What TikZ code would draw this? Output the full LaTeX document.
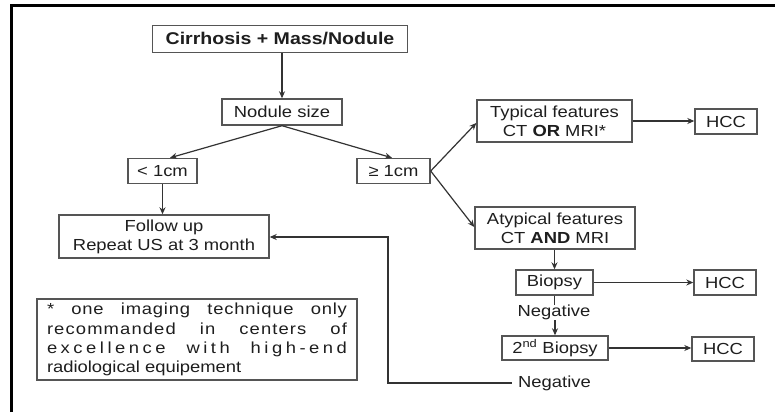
\documentclass[tikz,border=0pt]{standalone}
\usepackage{fontspec}
\setmainfont{Liberation Sans}[FakeStretch=1.15]
\usetikzlibrary{arrows.meta}
\definecolor{ln}{HTML}{333333}
\definecolor{bx}{HTML}{555555}
\definecolor{tx}{HTML}{1E1E1E}
\tikzset{
  box/.style={draw=bx, line width=1.4pt, fill=white, inner sep=0pt, align=center, text=tx,
    font=\fontsize{16}{19}\selectfont},
  conn/.style={draw=ln, line width=1.2pt, -{Stealth[length=7pt,width=6pt]}},
  plain/.style={draw=ln, line width=1.2pt},
  lbl/.style={inner sep=0pt, text=tx, font=\fontsize{16}{19}\selectfont},
  frame/.style={draw=black, line width=3pt}
}
\begin{document}
\begin{tikzpicture}[x=1pt,y=-1pt]
\useasboundingbox (0,0) rectangle (775,412);
\fill[white] (0,0) rectangle (775,412);
\draw[frame] (11,412) -- (11,6) -- (775,6);

\node[box, minimum width=255pt, minimum height=27pt, font=\fontsize{17}{19}\bfseries] (top) at (280,39) {Cirrhosis + Mass/Nodule};
\node[box, minimum width=120pt, minimum height=26pt] (size) at (282,112) {Nodule size};
\node[box, minimum width=69pt, minimum height=25pt] (small) at (162.5,171) {< 1cm};
\node[box, minimum width=73pt, minimum height=25pt] (big) at (393.5,171) {≥ 1cm};
\node[box, minimum width=210pt, minimum height=43pt] (follow) at (164,236.5) {Follow up\\Repeat US at 3 month};
\node[box, minimum width=155pt, minimum height=42pt] (typ) at (554.5,121) {Typical features\\CT \textbf{OR} MRI*};
\node[box, minimum width=62pt, minimum height=25pt] (hcc1) at (726,121.5) {HCC};
\node[box, minimum width=160pt, minimum height=42pt] (atyp) at (555,228) {Atypical features\\CT \textbf{AND} MRI};
\node[box, minimum width=77pt, minimum height=25pt] (bio) at (554.5,282.5) {Biopsy};
\node[box, minimum width=62pt, minimum height=25pt] (hcc2) at (725,282.5) {HCC};
\node[lbl] (neg1) at (554,312.5) {Negative};
\node[box, minimum width=106pt, minimum height=24pt] (bio2) at (555,348) {2\textsuperscript{nd} Biopsy};
\node[box, minimum width=62pt, minimum height=24pt] (hcc3) at (723,349) {HCC};
\node[lbl] (neg2) at (554.5,383) {Negative};
\coordinate (corner1) at (388,383);
\coordinate (corner2) at (388,237);

\node[box, minimum width=320pt, minimum height=81pt, font=\fontsize{16}{19.2}\selectfont] (note) at (197,339.5) {%
\makebox[300pt][s]{\addfontfeature{LetterSpace=5}*\hfill one\hfill imaging\hfill technique\hfill only}\\
\makebox[300pt][s]{\addfontfeature{LetterSpace=7}recommanded\hfill in\hfill centers\hfill of}\\
\makebox[300pt][s]{\addfontfeature{LetterSpace=22}excellence\hfill with\hfill high-end}\\
\makebox[300pt][l]{radiological equipement}};

\draw[conn] (top.south -| size.north) -- (size.north);
\draw[conn] (size.south) -- (small.north -| 170,0);
\draw[conn] (size.south) -- (big.north -| 392,0);
\draw[conn] (small.south) -- (follow.north -| small.south);
\draw[conn] (big.east) -- (typ.west |- 0,123);
\draw[conn] (big.east) -- (atyp.west |- 0,227);
\draw[conn] (typ.east) -- (hcc1.west |- typ.east);
\draw[conn] (atyp.south -| bio.north) -- (bio.north);
\draw[conn] (bio.east) -- (hcc2.west |- bio.east);
\draw[plain] (bio.south) -- (neg1.north -| bio.south);
\draw[conn] (neg1.south -| bio2.north) -- (bio2.north);
\draw[conn] (bio2.east) -- (hcc3.west |- bio2.east);
\draw[conn] ([xshift=-6pt]neg2.west) -- (corner1) -- (corner2) -- (follow.east |- corner2);
\end{tikzpicture}
\end{document}
